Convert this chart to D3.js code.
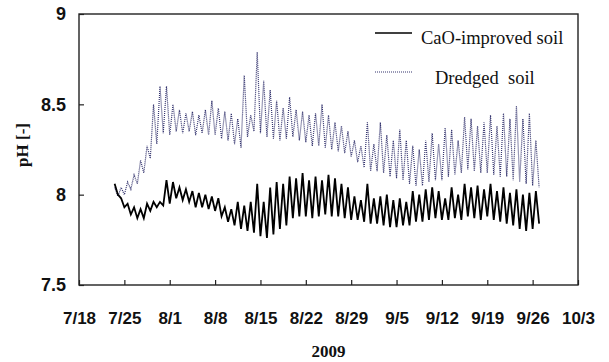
<!DOCTYPE html>
<html>
<head>
<meta charset="utf-8">
<script src="https://cdn.jsdelivr.net/npm/d3@7"></script>
<style>
  body { margin: 0; background: #fff; }
  svg { display: block; font-family: "Liberation Serif", "Times New Roman", serif; }
</style>
</head>
<body>
<div id="chart"></div>
<script>
// pH logged at the site, read off the figure as a daily peak and trough
// (first point 7/23 noon, one peak + one trough per day)
var startDate = new Date(2009, 6, 23, 12);

var caoHigh = [8.06, 7.98, 7.95, 7.93, 7.92, 7.95, 7.96, 7.96, 8.08, 8.07,
               8.04, 8.03, 8.02, 8.01, 8.00, 7.99, 7.98, 7.93, 7.92, 7.96,
               7.94, 7.96, 8.06, 7.96, 8.04, 8.07, 8.06, 8.10, 8.09, 8.12,
               8.08, 8.10, 8.08, 8.11, 8.09, 8.06, 8.04, 7.99, 7.97, 8.06,
               7.98, 7.99, 8.00, 7.97, 7.98, 7.96, 8.02, 8.00, 8.03, 8.04,
               8.02, 7.98, 8.04, 8.00, 8.06, 8.04, 8.05, 8.03, 8.06, 8.02,
               8.04, 8.01, 8.03, 8.00, 8.01, 8.02];
var caoLow  = [8.00, 7.93, 7.89, 7.87, 7.87, 7.91, 7.93, 7.94, 7.95, 7.98,
               7.97, 7.96, 7.93, 7.93, 7.92, 7.91, 7.88, 7.85, 7.83, 7.81,
               7.80, 7.79, 7.77, 7.76, 7.78, 7.81, 7.83, 7.87, 7.88, 7.88,
               7.87, 7.88, 7.89, 7.88, 7.88, 7.87, 7.86, 7.86, 7.85, 7.84,
               7.84, 7.83, 7.82, 7.82, 7.83, 7.83, 7.85, 7.85, 7.86, 7.87,
               7.86, 7.86, 7.87, 7.86, 7.88, 7.87, 7.86, 7.88, 7.86, 7.85,
               7.84, 7.83, 7.81, 7.80, 7.81, 7.84];

var dredgedHigh = [8.04, 8.04, 8.07, 8.11, 8.19, 8.27, 8.50, 8.60, 8.60, 8.50,
                   8.47, 8.45, 8.46, 8.44, 8.47, 8.52, 8.48, 8.46, 8.45, 8.42,
                   8.66, 8.44, 8.79, 8.63, 8.58, 8.52, 8.48, 8.54, 8.47, 8.46,
                   8.44, 8.45, 8.50, 8.44, 8.40, 8.38, 8.35, 8.30, 8.27, 8.40,
                   8.28, 8.40, 8.33, 8.30, 8.36, 8.30, 8.27, 8.25, 8.30, 8.34,
                   8.28, 8.37, 8.36, 8.30, 8.43, 8.42, 8.38, 8.40, 8.44, 8.38,
                   8.45, 8.42, 8.49, 8.42, 8.45, 8.30];
var dredgedLow  = [7.99, 8.00, 8.03, 8.06, 8.12, 8.20, 8.28, 8.34, 8.33, 8.35,
                   8.34, 8.35, 8.33, 8.34, 8.33, 8.33, 8.31, 8.30, 8.28, 8.26,
                   8.32, 8.35, 8.34, 8.32, 8.31, 8.30, 8.31, 8.32, 8.30, 8.29,
                   8.27, 8.27, 8.26, 8.25, 8.24, 8.23, 8.21, 8.18, 8.15, 8.13,
                   8.13, 8.12, 8.10, 8.09, 8.08, 8.06, 8.05, 8.05, 8.07, 8.08,
                   8.08, 8.10, 8.11, 8.12, 8.14, 8.13, 8.12, 8.12, 8.11, 8.10,
                   8.10, 8.08, 8.07, 8.06, 8.05, 8.04];

var xTickDates = ["7/18", "7/25", "8/1", "8/8", "8/15", "8/22", "8/29",
                  "9/5", "9/12", "9/19", "9/26", "10/3"];
var yTicks = [7.5, 8, 8.5, 9];
var seriesNames = ["CaO-improved soil", "Dredged  soil"];

var width = 609, height = 362;
var margin = {top: 14, right: 31, bottom: 77, left: 79};

var svg = d3.select("#chart").append("svg")
    .attr("width", width)
    .attr("height", height);

var x = d3.scaleTime()
    .domain([new Date(2009, 6, 18), new Date(2009, 9, 3)])
    .range([margin.left, width - margin.right]);
var y = d3.scaleLinear()
    .domain([7.5, 9])
    .range([height - margin.bottom, margin.top]);

// turn peak/trough arrays into a time series, peak then trough each day
function toPoints(hi, lo) {
  var pts = [];
  hi.forEach(function (h, i) {
    pts.push({t: d3.timeHour.offset(startDate, i * 24), v: h});
    pts.push({t: d3.timeHour.offset(startDate, i * 24 + 12), v: lo[i]});
  });
  return pts;
}
var cao = toPoints(caoHigh, caoLow);
var dredged = toPoints(dredgedHigh, dredgedLow);

var line = d3.line()
    .x(function (d) { return x(d.t); })
    .y(function (d) { return y(d.v); });

var parse = d3.timeParse("%Y/%m/%d");
var tickVals = xTickDates.map(function (s) { return parse("2009/" + s); });

// x axis: ticks point up into the plot, labels below
var xAxis = d3.axisBottom(x)
    .tickValues(tickVals)
    .tickSizeInner(-5)
    .tickSizeOuter(0)
    .tickPadding(27)
    .tickFormat(function (d, i) { return xTickDates[i]; });
var gx = svg.append("g")
    .attr("transform", "translate(0," + (height - margin.bottom) + ")")
    .call(xAxis);
gx.select(".domain").remove();
gx.selectAll("line").attr("stroke", "#222").attr("stroke-width", 1.2);
gx.selectAll("text")
    .attr("fill", "#111")
    .style("font-size", "17px")
    .style("font-weight", "bold");

var yAxis = d3.axisLeft(y)
    .tickValues(yTicks)
    .tickSizeInner(-5)
    .tickSizeOuter(0)
    .tickPadding(13)
    .tickFormat(d3.format(""));
var gy = svg.append("g")
    .attr("transform", "translate(" + margin.left + ",0)")
    .call(yAxis);
gy.select(".domain").remove();
gy.selectAll("line").attr("stroke", "#222").attr("stroke-width", 1.2);
gy.selectAll("text")
    .attr("fill", "#111")
    .style("font-size", "18px")
    .style("font-weight", "bold");

// plot frame
svg.append("rect")
    .attr("x", margin.left)
    .attr("y", margin.top)
    .attr("width", width - margin.left - margin.right)
    .attr("height", height - margin.top - margin.bottom)
    .attr("fill", "none")
    .attr("stroke", "#222")
    .attr("stroke-width", 1.4);

svg.append("path")
    .datum(dredged)
    .attr("d", line)
    .attr("fill", "none")
    .attr("stroke", "#34346e")
    .attr("stroke-width", 1.2)
    .attr("stroke-dasharray", "1,1");

svg.append("path")
    .datum(cao)
    .attr("d", line)
    .attr("fill", "none")
    .attr("stroke", "#000")
    .attr("stroke-width", 1.8);

// legend
var legend = svg.append("g");
legend.append("line")
    .attr("x1", 375).attr("x2", 412).attr("y1", 33).attr("y2", 33)
    .attr("stroke", "#000").attr("stroke-width", 1.4);
legend.append("text")
    .attr("x", 421).attr("y", 44)
    .style("font-size", "18.5px")
    .attr("fill", "#111")
    .text(seriesNames[0]);
legend.append("line")
    .attr("x1", 375).attr("x2", 412).attr("y1", 72).attr("y2", 72)
    .attr("stroke", "#34346e").attr("stroke-width", 1.2)
    .attr("stroke-dasharray", "1,1");
legend.append("text")
    .attr("x", 435).attr("y", 84)
    .style("font-size", "18.5px")
    .style("white-space", "pre")
    .attr("fill", "#111")
    .text(seriesNames[1]);

// axis titles
svg.append("text")
    .attr("transform", "translate(28,145) rotate(-90)")
    .attr("text-anchor", "middle")
    .style("font-size", "17px")
    .style("font-weight", "bold")
    .attr("fill", "#111")
    .text("pH [-]");
svg.append("text")
    .attr("x", (margin.left + width - margin.right) / 2)
    .attr("y", 357)
    .attr("text-anchor", "middle")
    .style("font-size", "17px")
    .style("font-weight", "bold")
    .attr("fill", "#111")
    .text("2009");
</script>
</body>
</html>
